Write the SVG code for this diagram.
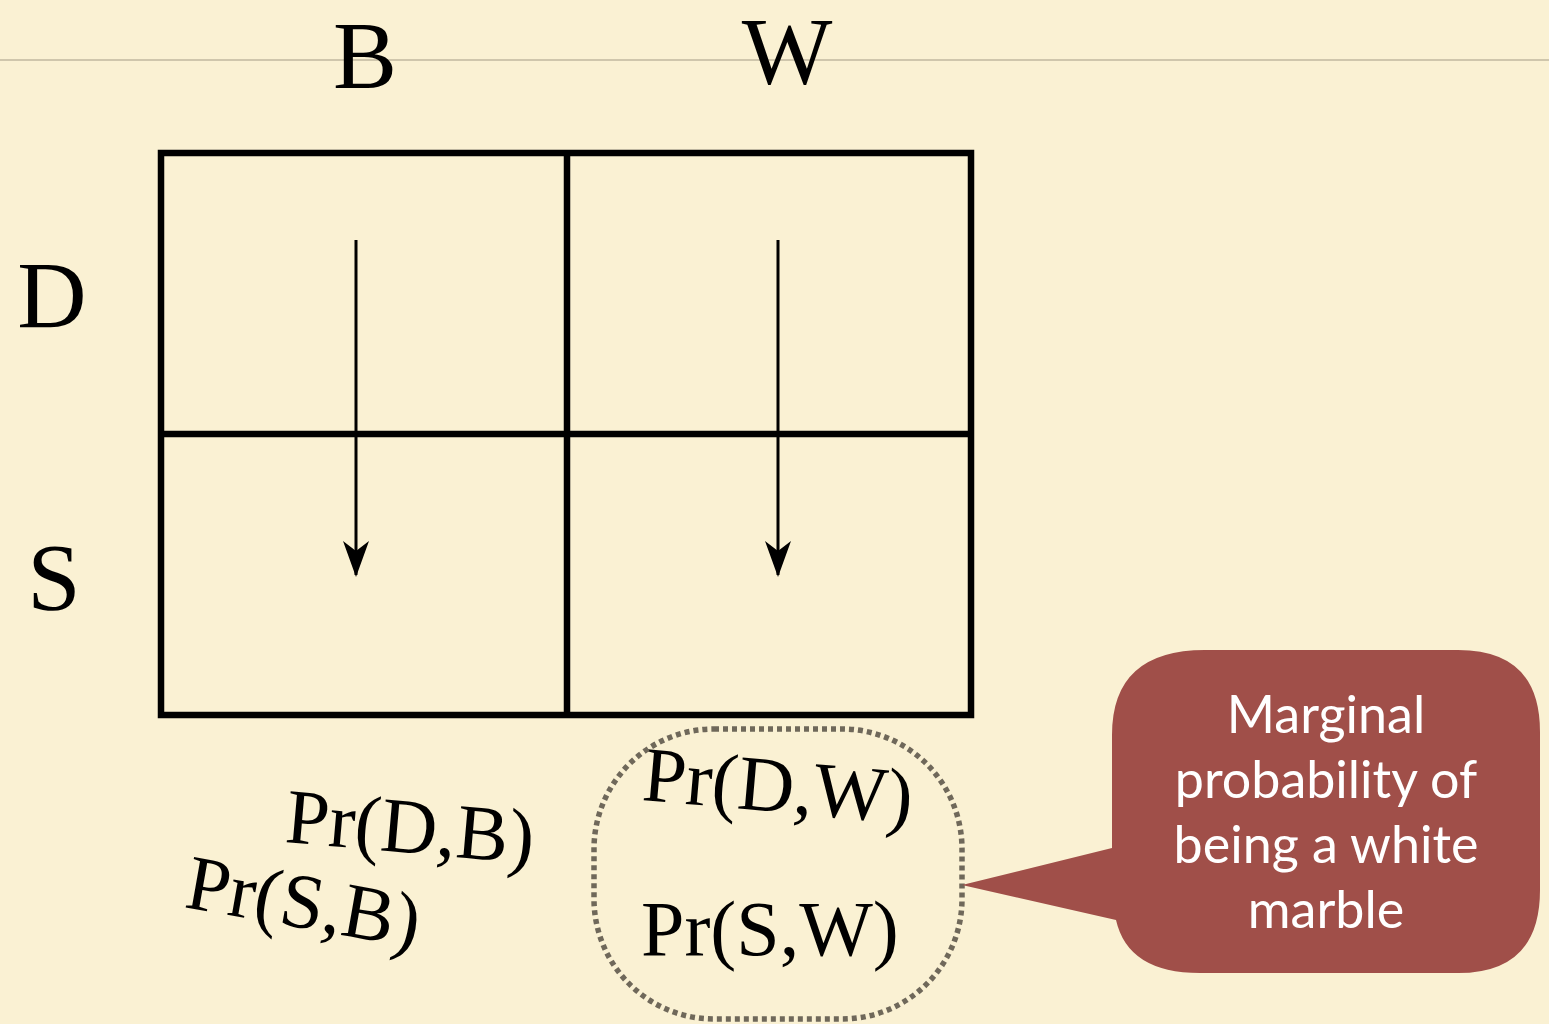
<svg xmlns="http://www.w3.org/2000/svg" width="1549" height="1024" viewBox="0 0 1549 1024">
<defs>
<style>
.serif{font-family:"Liberation Serif","Times New Roman",serif;fill:#000}
.big{font-size:96px}
.pr{font-size:78px}
.call{font-family:Lato,"Open Sans","Liberation Sans",sans-serif;font-size:52px;fill:#fff;text-anchor:middle}
.grid{fill:none;stroke:#000;stroke-width:6.5}
.arr{stroke:#000;stroke-width:3;fill:none;marker-end:url(#ah)}
</style>
<marker id="ah" viewBox="0 0 36 26" refX="34" refY="13" markerWidth="36" markerHeight="26" markerUnits="userSpaceOnUse" orient="auto">
<path d="M0,0 L36,13 L0,26 L10,13 Z" fill="#000"/>
</marker>
</defs>
<rect x="0" y="0" width="1549" height="1024" fill="#faf1d3"/>
<line x1="0" y1="60" x2="1549" y2="60" stroke="#cfc6ac" stroke-width="2"/>
<g id="labels">
<text class="serif big" x="365" y="88" text-anchor="middle">B</text>
<text class="serif big" x="787" y="84" text-anchor="middle">W</text>
<text class="serif big" x="52" y="328" text-anchor="middle">D</text>
<text class="serif big" x="54" y="610" text-anchor="middle">S</text>
</g>
<g id="grid">
<rect class="grid" x="161" y="153" width="810" height="562"/>
<line class="grid" x1="567" y1="153" x2="567" y2="715"/>
<line class="grid" x1="161" y1="434" x2="971" y2="434"/>
</g>
<g id="connectors">
<line class="arr" x1="356" y1="240" x2="356" y2="575"/>
<line class="arr" x1="778" y1="240" x2="778" y2="575"/>
</g>
<g id="pr-labels">
<text class="serif pr" transform="translate(284,842) rotate(5)">Pr(D,B)</text>
<text class="serif pr" transform="translate(183,907) rotate(10)">Pr(S,B)</text>
<text class="serif pr" transform="translate(641,800) rotate(5)">Pr(D,W)</text>
<text class="serif pr" x="641" y="955">Pr(S,W)</text>
</g>
<g id="group-outline">
<rect x="594" y="729" width="368" height="290" rx="120" ry="120" fill="none" stroke="#6f685a" stroke-width="5.5" stroke-dasharray="5 4"/>
</g>
<g id="callout">
<path d="M1205,650 H1458 Q1540,650 1540,732 V890 Q1540,973 1458,973 H1200 Q1128,973 1116,920 L962,885 L1112,848 V735 Q1112,650 1205,650 Z" fill="#a04f49"/>
<text class="call" x="1326" y="733">Marginal</text>
<text class="call" x="1326" y="798">probability of</text>
<text class="call" x="1326" y="863">being a white</text>
<text class="call" x="1326" y="928">marble</text>
</g>
</svg>
